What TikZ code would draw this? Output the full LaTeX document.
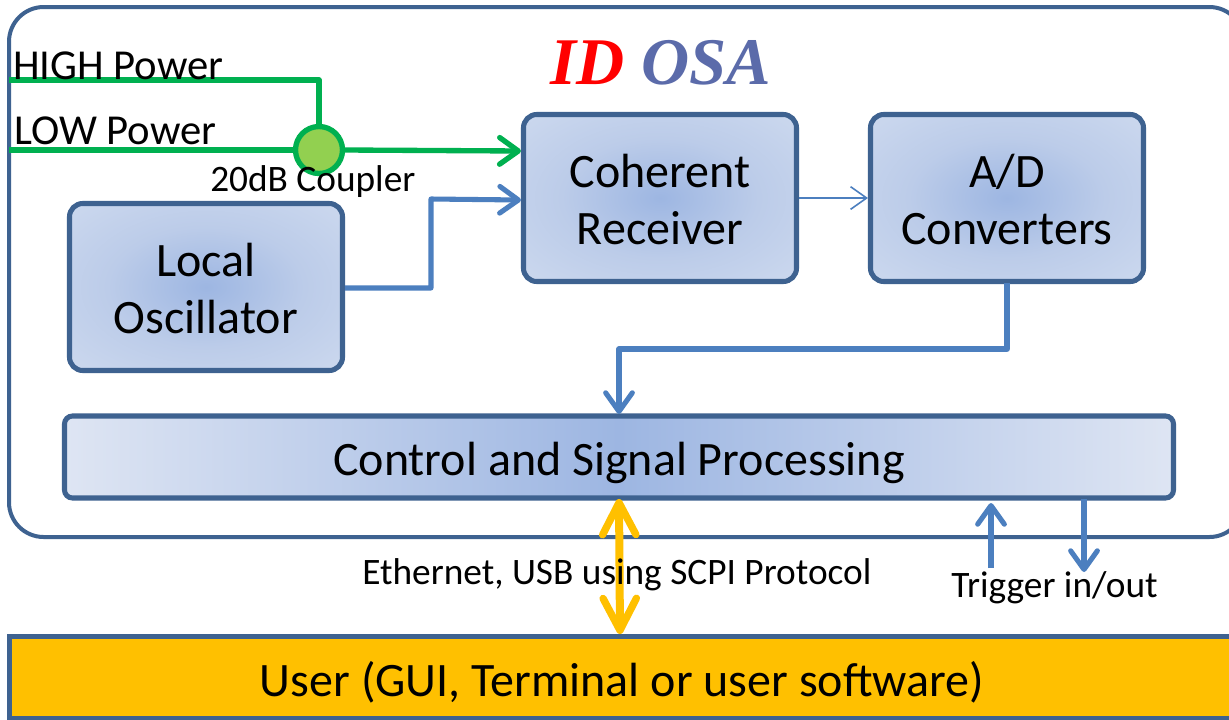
\documentclass[tikz,border=0pt]{standalone}
\usepackage{fontspec}
\setmainfont{Carlito}
\newfontfamily\titlefont{Liberation Serif}
\usetikzlibrary{arrows.meta,calc}
\definecolor{edgeblue}{HTML}{3E6290}
\definecolor{linkblue}{HTML}{4C7FBF}
\definecolor{greenline}{HTML}{00B050}
\definecolor{greenfill}{HTML}{92D050}
\definecolor{gold}{HTML}{FFC000}
\definecolor{shadein}{HTML}{9DB6E2}
\definecolor{shadeout}{HTML}{DEE5F3}
\definecolor{shadeq}{HTML}{BCCCE9}
\definecolor{shadeh}{HTML}{CEDAEF}
\definecolor{titleblue}{HTML}{5B6BAA}
\pgfdeclareradialshading{softglow}{\pgfpoint{0bp}{0bp}}{color(0bp)=(shadein); color(18bp)=(shadeq); color(38bp)=(shadeh); color(60bp)=(shadeout); color(100bp)=(shadeout)}
\newcommand{\firstline}{\rule{0pt}{27pt}}
\tikzset{
  x=0.75pt,y=-0.75pt,
  blockbox/.style={draw=edgeblue,line width=3.8pt,rounded corners=10pt,inner sep=0pt,
    shading=softglow,align=center,font=\fontsize{36}{43}\selectfont,
    minimum width=273*0.75pt,minimum height=167*0.75pt},
  bluelink/.style={draw=linkblue,line width=3.8pt,line join=round,
    -{Straight Barb[round,length=14pt,width=20pt,line width=3.8pt]}},
  greenlink/.style={draw=greenline,line width=4pt,line join=round},
  goldlink/.style={draw=gold,line width=6pt,
    {Straight Barb[round,length=24pt,width=25pt,line width=5.5pt]}-{Straight Barb[round,length=24pt,width=25pt,line width=5.5pt]}},
  lbl/.style={inner sep=0pt,anchor=base west}
}
\begin{document}
\begin{tikzpicture}
\useasboundingbox (0,0) rectangle (1229,719);
\fill[white] (0,0) rectangle (1229,719);
% outer box
\node[draw=edgeblue,line width=3pt,rounded corners=26pt,minimum width=1235*0.75pt,minimum height=530*0.75pt,inner sep=0pt,anchor=north west] (osa) at (7,5) {};
% blocks
\node[blockbox] (rx) at (660,198) {\firstline Coherent\\Receiver};
\node[blockbox] (adc) at (1007,198) {\firstline A/D\\Converters};
\node[blockbox] (lo) at (206,287) {\firstline Local\\Oscillator};
\node[draw=edgeblue,line width=3.8pt,rounded corners=6pt,inner sep=0pt,minimum width=1109*0.75pt,minimum height=82*0.75pt,
  left color=shadeout,right color=shadeout,middle color=shadein,font=\fontsize{36}{43}\selectfont] (dsp) at (619,457) {\raisebox{-13.5pt}[0pt][0pt]{Control and Signal Processing}};
\node[draw=edgeblue,line width=3.6pt,fill=gold,inner sep=0pt,minimum width=1250*0.75pt,minimum height=82*0.75pt,anchor=north west] (user) at (7,634) {};
\node[inner sep=0pt,font=\fontsize{36}{43}\selectfont] (usertxt) at (622,682) {User (GUI, Terminal or user software)};
% free ends
\coordinate (hi) at (9,80);
\coordinate (lw) at (9,150);
\coordinate (rxg) at ($(rx.west)+(0,-47)$);
\coordinate (rxb) at ($(rx.west)+(0,2)$);
\coordinate (cp) at (319,150);
\coordinate (trigin) at (991,568);
\coordinate (trigout) at (1084,572);
\coordinate (trigintop) at (991,503);
\coordinate (trigoutbot) at (1084,499);
\coordinate (dsptop) at (619,414);
\coordinate (adcbot) at (1007,283);
\coordinate (golda) at (619,499);
\coordinate (goldb) at (620,634);
% green lines
\draw[greenlink] (hi) -- (319,80) -- (cp);
\draw[greenlink,line width=5pt] (lw) -- (cp);
\node[circle,draw=greenline,fill=greenfill,line width=4pt,minimum size=47*0.75pt,inner sep=0pt] (coupler) at (319,150) {};
\draw[greenlink,-{Straight Barb[round,length=14pt,width=20pt,line width=4pt]}] (coupler.east) -- (rxg);
% blue links
\draw[bluelink] (lo.east |- 0,288) -- (431,288) -- (431,199) -- (rxb);
\draw[draw=linkblue,line width=1.2pt,-{Straight Barb[length=12pt,width=17pt,line width=1.2pt]}] (rx.east) -- (adc.west);
\draw[bluelink] (adcbot) -- (1007,349) -- (619,349) -- (dsptop);
\draw[bluelink] (trigin) -- (trigintop);
\draw[bluelink] (trigoutbot) -- (trigout);
\draw[goldlink] (golda) -- (goldb);
% labels
\node[lbl,font=\fontsize{32}{38}\selectfont] (high) at (13,79) {HIGH Power};
\node[lbl,font=\fontsize{32}{38}\selectfont] (low) at (14,144) {LOW Power};
\node[lbl,font=\fontsize{28}{34}\selectfont] (cpl) at (210,191) {20dB Coupler};
\node[lbl,font=\fontsize{28}{34}\selectfont] (eth) at (362,584) {Ethernet, USB using SCPI Protocol};
\node[lbl,font=\fontsize{28}{34}\selectfont] (trig) at (951,597) {Trigger in/out};
\node[lbl,font=\titlefont\bfseries\itshape\fontsize{50}{60}\selectfont] (title) at (550,84) {\textcolor{red}{ID} \textcolor{titleblue}{OSA}};
\end{tikzpicture}
\end{document}
